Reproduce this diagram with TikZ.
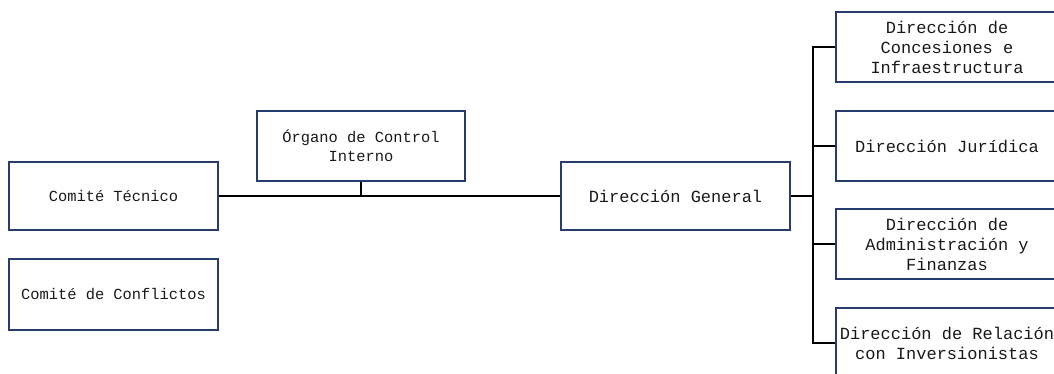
\documentclass[tikz,border=0pt]{standalone}
\usepackage{fontspec}
\setmonofont{Liberation Mono}
\usepackage{tikz}
\usetikzlibrary{positioning}
\definecolor{boxblue}{RGB}{38,60,108}
\tikzset{
    unit/.style={draw=boxblue, line width=1.4pt, align=center, text=black!90,
        font=\ttfamily\fontsize{15.4}{19}\selectfont, inner sep=0pt},
    subunit/.style={unit, minimum width=222pt, minimum height=70pt,
        font=\ttfamily\fontsize{17}{20}\selectfont},
    link/.style={line width=1.4pt, black}
}
\begin{document}
\begin{tikzpicture}[x=1pt, y=-1pt]
        \useasboundingbox (0,0) rectangle (1054,373);
        \clip (0,0) rectangle (1054,373);
        % Left boxes
        \node[unit, minimum width=209pt, minimum height=68pt] (tecnico) at (113.5,196) {Comité Técnico};
        \node[unit, minimum width=209pt, minimum height=71pt] (conflictos) at (113.5,294.5) {Comité de Conflictos};
        \node[unit, minimum width=208pt, minimum height=70pt] (organo) at (361,146) {Órgano de Control\\Interno};
        \node[unit, minimum width=229pt, minimum height=68pt,
            font=\ttfamily\fontsize{17}{20}\selectfont] (general) at (675.5,196) {Dirección General};
        % Right boxes
        \node[subunit] (concesiones) at (947,47) {Dirección de\\Concesiones e\\Infraestructura};
        \node[subunit] (juridica) at (947,146) {Dirección Jurídica};
        \node[subunit] (finanzas) at (947,244) {Dirección de\\Administración y\\Finanzas};
        \node[subunit] (relacion) at (947,343) {Dirección de Relación\\con Inversionistas};
        \coordinate (bus) at (813,196);
        % Lines
        \draw[link] (tecnico.east) -- (general.west);
        \draw[link] (organo.south) -- (organo.south |- general.west);
        \draw[link] (general.east) -- (bus);
        \draw[link] (concesiones.west) -| (bus |- relacion.west) -- (relacion.west);
        \draw[link] (juridica.west) -- (juridica.west -| bus);
        \draw[link] (finanzas.west) -- (finanzas.west -| bus);
    \end{tikzpicture}
\end{document}
